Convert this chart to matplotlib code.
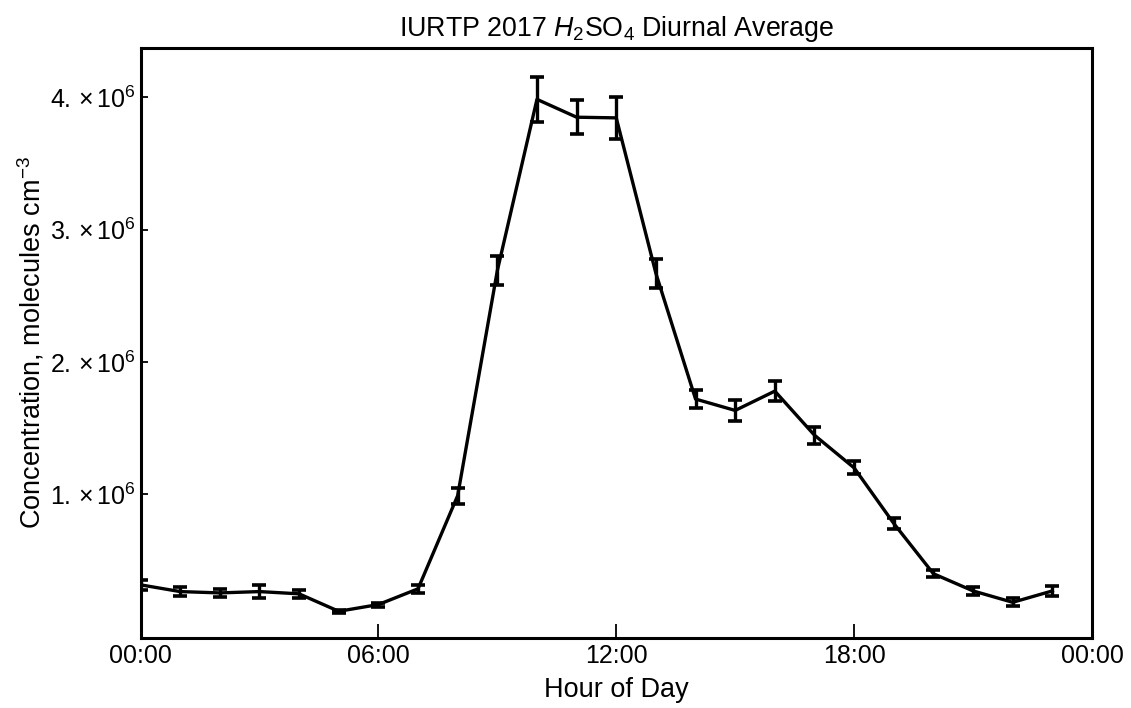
import matplotlib
matplotlib.use("Agg")
import matplotlib.pyplot as plt
from matplotlib.ticker import FixedLocator, FuncFormatter

plt.rcParams['font.family'] = ['Liberation Sans', 'DejaVu Sans']
plt.rcParams['mathtext.fontset'] = 'custom'
plt.rcParams['mathtext.rm'] = 'Liberation Sans'
plt.rcParams['mathtext.it'] = 'Liberation Sans:italic'
plt.rcParams['mathtext.bf'] = 'Liberation Sans:bold'

hours = list(range(24))
conc = [0.316, 0.265, 0.255, 0.265, 0.248, 0.116, 0.167, 0.286, 0.99, 2.69,
        3.985, 3.85, 3.845, 2.67, 1.72, 1.634, 1.78, 1.447, 1.20, 0.78,
        0.40, 0.27, 0.184, 0.27]
err = [0.038, 0.037, 0.03, 0.047, 0.03, 0.012, 0.015, 0.028, 0.06, 0.11,
       0.17, 0.13, 0.16, 0.11, 0.067, 0.078, 0.073, 0.063, 0.05, 0.044,
       0.025, 0.03, 0.03, 0.038]
conc = [c * 1e6 for c in conc]
err = [e * 1e6 for e in err]

xticks = [0, 6, 12, 18, 24]
xticklabels = ["00:00", "06:00", "12:00", "18:00", "00:00"]
yticks = [1e6, 2e6, 3e6, 4e6]

fig = plt.figure(figsize=(11.31, 7.08), dpi=100)
ax = fig.add_axes([140.5 / 1131, 1 - 637.5 / 708, (1092 - 140.5) / 1131, (637.5 - 48) / 708])

ax.errorbar(hours, conc, yerr=err, color='black', lw=2.4, elinewidth=2.4,
            capsize=5, capthick=2.6)

ax.set_xlim(0, 24)
ax.set_ylim(-0.082e6, 4.373e6)
ax.xaxis.set_major_locator(FixedLocator(xticks))
ax.set_xticklabels(xticklabels)
ax.yaxis.set_major_locator(FixedLocator(yticks))
ax.yaxis.set_major_formatter(FuncFormatter(lambda v, p: r"$%d.\,{\times}\,10^{6}$" % round(v / 1e6)))

ax.tick_params(axis='x', direction='in', length=10, width=1.3, labelsize=18, pad=5)
ax.tick_params(axis='y', direction='in', length=5, width=1.3, labelsize=18, pad=3.3)
for s in ax.spines.values():
    s.set_linewidth(2.2)

ax.set_xlabel("Hour of Day", fontsize=19.5, labelpad=6)
ax.set_ylabel(r"Concentration, molecules cm$^{-3}$", fontsize=19.5)
ax.yaxis.set_label_coords(-0.0985, 0.5)
ax.set_title(r"IURTP 2017 $\mathit{H}_2\mathrm{SO}_4$ Diurnal Average", fontsize=19.3, pad=9)

fig.savefig("out.png", dpi=100)
